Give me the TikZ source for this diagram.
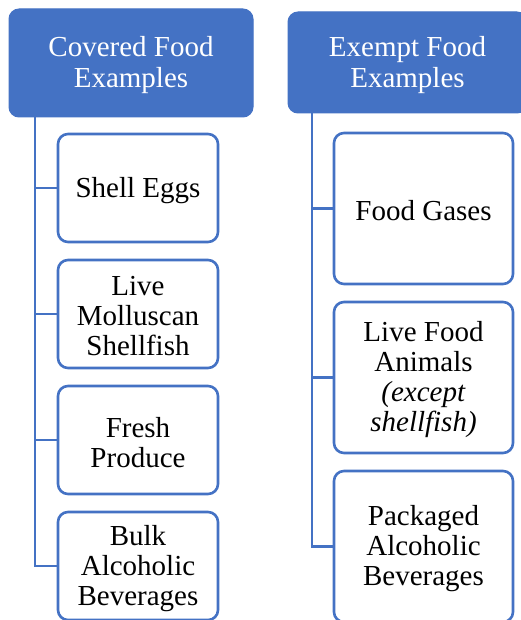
\documentclass[tikz,border=0pt]{standalone}
\usepackage{fontspec}
\setmainfont{Liberation Serif}
\definecolor{hdr}{HTML}{4472C4}
\begin{document}
\begin{tikzpicture}[x=1pt,y=-1pt,
  hdrbox/.style={draw=hdr, fill=hdr, line width=1pt, rounded corners=10pt, inner sep=0pt},
  hdrtxt/.style={text=white, align=center, font=\fontsize{29}{31}\selectfont, inner sep=0pt, yshift=-2.5pt},
  itembox/.style={draw=hdr, line width=2.6pt, fill=white, rounded corners=10pt, inner sep=0pt},
  itemtxt/.style={text=black, align=center, font=\fontsize{29}{30}\selectfont, inner sep=0pt, yshift=-2.5pt},
  lbox/.style={itembox, minimum width=160pt, minimum height=108pt},
  rbox/.style={itembox, minimum width=179pt, minimum height=151pt},
  conn/.style={draw=hdr, line width=2.6pt}]
\clip (0,0) rectangle (521,620);
\fill[white] (0,0) rectangle (521,620);
% headers
\node[hdrbox, minimum width=244pt, minimum height=108pt,
  label={[hdrtxt]center:Covered Food\\Examples}] (h1) at (131,63) {};
\node[hdrbox, minimum width=239pt, minimum height=101pt,
  label={[hdrtxt]center:Exempt Food\\Examples}] (h2) at (407.5,62.5) {};
% trunks
\coordinate (lt) at (35,117);
\coordinate (rt) at (312,113);
% left items
\node[lbox, label={[itemtxt]center:Shell Eggs}] (c1) at (138,188) {};
\node[lbox, label={[itemtxt]center:Live\\Molluscan\\Shellfish}] (c2) at (138,314) {};
\node[lbox, label={[itemtxt]center:Fresh\\Produce}] (c3) at (138,440) {};
\node[lbox, label={[itemtxt]center:Bulk\\Alcoholic\\Beverages}] (c4) at (138,566) {};
% right items
\node[rbox, label={[itemtxt]center:Food Gases}] (e1) at (423.5,208.5) {};
\node[rbox, label={[itemtxt]center:Live Food\\Animals\\\textit{(except}\\\textit{shellfish)}}] (e2) at (423.5,377.5) {};
\node[rbox, label={[itemtxt]center:Packaged\\Alcoholic\\Beverages}] (e3) at (423.5,546.5) {};
% connectors
\foreach \n in {c1,c2,c3,c4} \draw[conn] (lt) |- (\n.west);
\foreach \n in {e1,e2,e3} \draw[conn] (rt) |- (\n.west);
\end{tikzpicture}
\end{document}
